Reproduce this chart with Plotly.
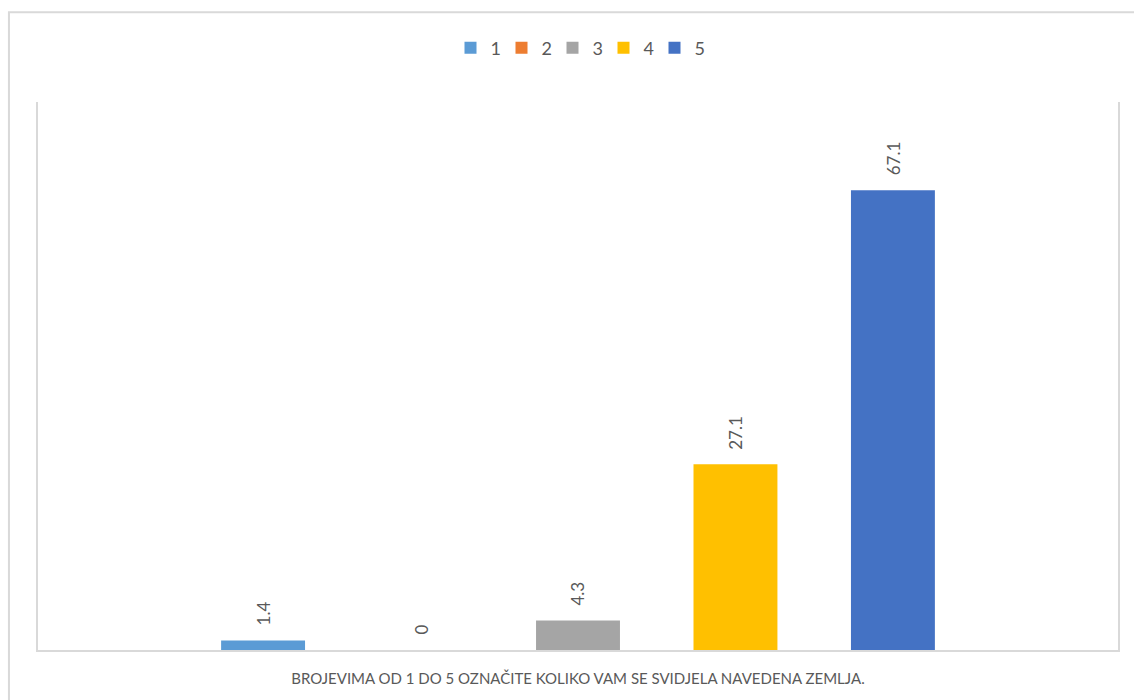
import plotly.graph_objects as go

category = "BROJEVIMA OD 1 DO 5 OZNAČITE KOLIKO VAM SE SVIDJELA NAVEDENA ZEMLJA."
series_names = ["1", "2", "3", "4", "5"]
values = [1.4, 0, 4.3, 27.1, 67.1]
labels = ["1.4", "0", "4.3", "27.1", "67.1"]
colors = ["#5B9BD5", "#ED7D31", "#A5A5A5", "#FFC000", "#4472C4"]

BARGAP = 0.271
BARGROUPGAP = 0.467
FONT = "Lato, 'Open Sans', sans-serif"
TEXT_COLOR = "#595959"
LINE_COLOR = "#D9D9D9"

fig = go.Figure()
n = len(values)
slot = (1 - BARGAP) / n
for i, (name, v, c) in enumerate(zip(series_names, values, colors)):
    fig.add_trace(go.Bar(x=[0], y=[v], name=name, marker=dict(color=c, line=dict(width=0)),
                         hoverinfo="y"))
    xc = -(1 - BARGAP) / 2 + (i + 0.5) * slot
    fig.add_annotation(x=xc, y=v, xref="x", yref="y", text=labels[i], textangle=-90,
                       showarrow=False, yanchor="bottom", yshift=13,
                       font=dict(family=FONT, size=17, color=TEXT_COLOR))

fig.update_layout(
    width=1134, height=700,
    barmode="group", bargap=BARGAP, bargroupgap=BARGROUPGAP,
    plot_bgcolor="white", paper_bgcolor="white",
    margin=dict(l=38, r=16, t=102, b=50, autoexpand=False),
    font=dict(family=FONT, color=TEXT_COLOR),
    legend=dict(orientation="h", x=0.5, xanchor="center", y=1.0985, yanchor="middle",
                font=dict(size=18, color=TEXT_COLOR), itemclick=False, traceorder="normal",
                entrywidth=6, entrywidthmode="pixels"),
    showlegend=True,
    xaxis=dict(range=[-0.5, 0.5], tickvals=[0], ticktext=[category], showgrid=False,
               zeroline=False, showline=True, linecolor=LINE_COLOR, linewidth=2,
               ticks="", ticklabelstandoff=14,
               tickfont=dict(size=15, color=TEXT_COLOR, family=FONT), fixedrange=True),
    yaxis=dict(range=[0, 80], showgrid=False, zeroline=False, showticklabels=False,
               showline=True, mirror=True, linecolor=LINE_COLOR, linewidth=2, ticks="",
               fixedrange=True),
)

# outer chart border
fig.add_shape(type="rect", xref="paper", yref="paper", x0=-0.0269, x1=1.2, y0=-0.3, y1=1.164,
              line=dict(color=LINE_COLOR, width=2), fillcolor="rgba(0,0,0,0)", layer="below")

fig.write_html("out.html", config={"displayModeBar": False},
               post_script="document.body.style.margin='0';document.body.style.overflow='hidden';")
